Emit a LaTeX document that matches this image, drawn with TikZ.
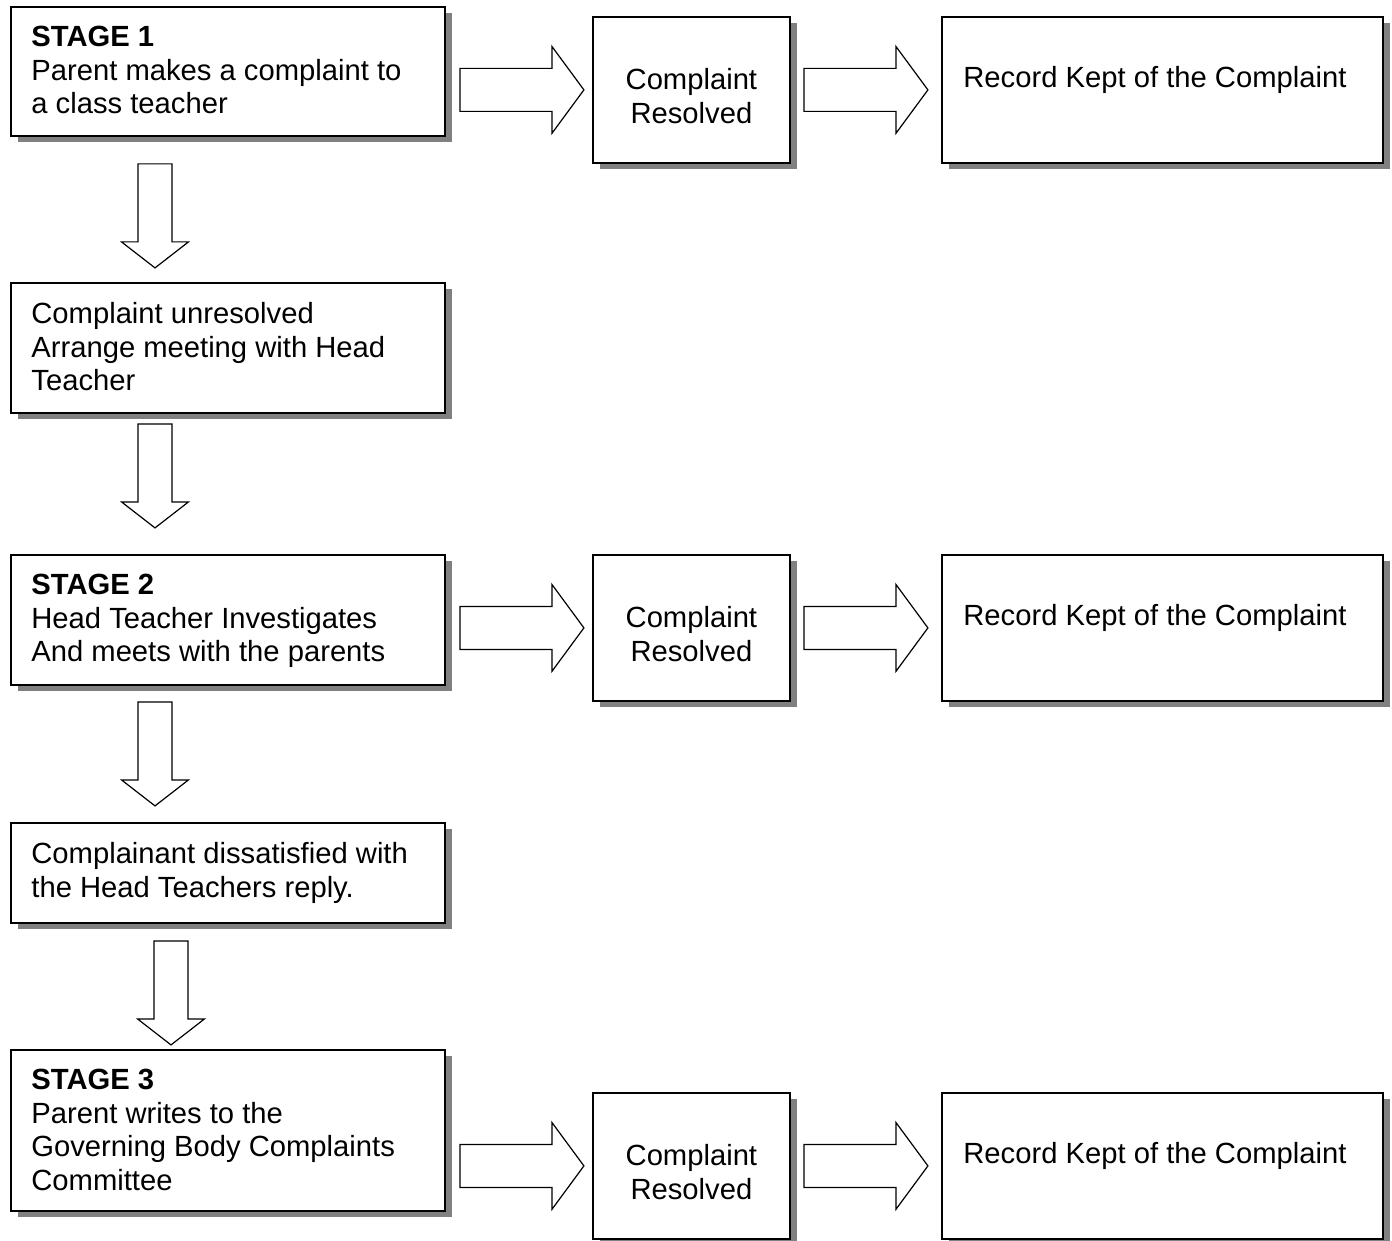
\documentclass[tikz,border=0pt]{standalone}
\usepackage{fontspec}
\setmainfont{Liberation Sans}
\usepackage{tikz}
\usetikzlibrary{shadows, calc}
\tikzset{
box/.style={draw, line width=0.9pt, fill=white, anchor=north west, inner sep=0pt,
  drop shadow={shadow xshift=3.5pt, shadow yshift=-3pt, fill=gray, opacity=1}}, % boxes with the grey shadow
leftbox/.style={box, minimum width=217pt},
midbox/.style={box, minimum width=98.5pt, minimum height=73pt},
recbox/.style={box, minimum width=220.5pt, minimum height=73pt},
boxfont/.style={font=\fontsize{14.6}{16.75}\selectfont},
lefttext/.style={boxfont, anchor=north west, inner sep=0pt, xshift=10.5pt, yshift=-10pt, align=left},
midtext/.style={boxfont, anchor=north, inner sep=0pt, yshift=-26pt, align=center},
rectext/.style={boxfont, anchor=north west, inner sep=0pt, xshift=11pt, yshift=-25pt},
rarrow/.pic={\draw[line width=0.6pt, fill=white] (-62,-21.5) -- (30,-21.5) -- (30,-43.5) -- (62,0)
  -- (30,43.5) -- (30,21.5) -- (-62,21.5) -- cycle;}, % block arrow to the right
darrow/.pic={\draw[line width=0.6pt, fill=white] (-17,-52) -- (17,-52) -- (17,26) -- (33.5,26)
  -- (0,52) -- (-33.5,26) -- (-17,26) -- cycle;}, % block arrow downwards
}

\begin{document}
\begin{tikzpicture}[x=0.5pt, y=-0.5pt]
\useasboundingbox (0,0) rectangle (1392,1241);

\node[leftbox, minimum height=64.5pt, label={[lefttext]north west:{\textbf{STAGE 1}\\Parent makes a complaint to\\a class teacher}}] (s1) at (10,6) {};
\node[leftbox, minimum height=65pt, label={[lefttext]north west:{Complaint unresolved\\Arrange meeting with Head\\Teacher}}] (un) at (10,282) {};
\node[leftbox, minimum height=65pt, label={[lefttext]north west:{\textbf{STAGE 2}\\Head Teacher Investigates\\And meets with the parents}}] (s2) at (10,554) {};
\node[leftbox, minimum height=50pt, label={[lefttext]north west:{Complainant dissatisfied with\\the Head Teachers reply.}}] (ds) at (10,822) {};
\node[leftbox, minimum height=80.5pt, label={[lefttext]north west:{\textbf{STAGE 3}\\Parent writes to the\\Governing Body Complaints\\Committee}}] (s3) at (10,1049) {};

\node[midbox, label={[midtext]north:{Complaint\\Resolved}}] (cr1) at (592,16) {};
\node[recbox, label={[rectext]north west:{Record Kept of the Complaint}}] (rk1) at (941,16) {};
\node[midbox, label={[midtext]north:{Complaint\\Resolved}}] (cr2) at (592,554) {};
\node[recbox, label={[rectext]north west:{Record Kept of the Complaint}}] (rk2) at (941,554) {};
\node[midbox, label={[midtext]north:{Complaint\\Resolved}}] (cr3) at (592,1092) {};
\node[recbox, label={[rectext]north west:{Record Kept of the Complaint}}] (rk3) at (941,1092) {};

\pic[xshift=1.5pt] at ($(s1.east |- cr1.west)!.5!(cr1.west)$) {rarrow};
\pic at ($(cr1.east)!.5!(rk1.west)$) {rarrow};
\pic[xshift=1.5pt] at ($(s2.east |- cr2.west)!.5!(cr2.west)$) {rarrow};
\pic at ($(cr2.east)!.5!(rk2.west)$) {rarrow};
\pic[xshift=1.5pt] at ($(s3.east |- cr3.west)!.5!(cr3.west)$) {rarrow};
\pic at ($(cr3.east)!.5!(rk3.west)$) {rarrow};

\pic[xshift=72.5pt, yshift=-3.25pt] at ($(s1.south west)!.5!(un.north west)$) {darrow};
\pic[xshift=72.5pt, yshift=4pt] at ($(un.south west)!.5!(s2.north west)$) {darrow};
\pic[xshift=72.5pt] at ($(s2.south west)!.5!(ds.north west)$) {darrow};
\pic[xshift=80.5pt, yshift=-3.25pt] at ($(ds.south west)!.5!(s3.north west)$) {darrow};
\end{tikzpicture}
\end{document}
